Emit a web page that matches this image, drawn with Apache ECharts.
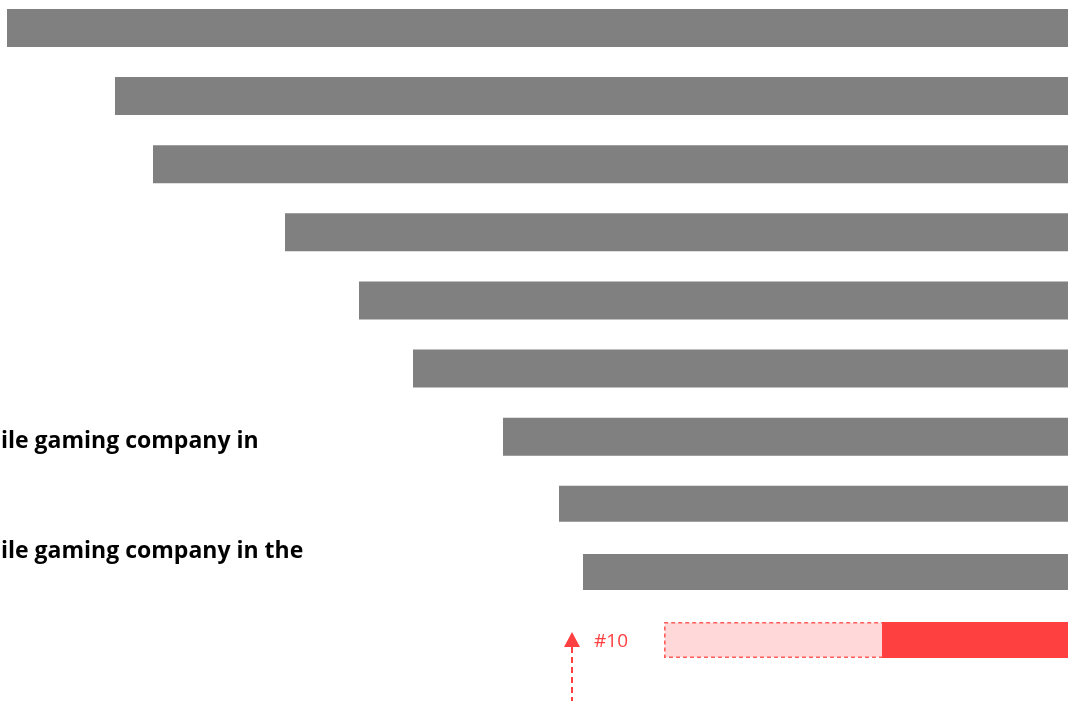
<!DOCTYPE html>
<html>
<head>
<meta charset="utf-8">
<script src="https://cdn.jsdelivr.net/npm/echarts@6/dist/echarts.min.js"></script>
<style>
html,body{margin:0;padding:0;background:#fff;}
#c{width:1068px;height:701px;}
</style>
</head>
<body>
<div id="c"></div>
<script>
const categories = ['r1','r2','r3','r4','r5','r6','r7','r8','r9','r10'];
const greyTop    = [1061, 953, 915, 783, 709, 655, 565, '-', '-', '-'];
const greyBottom = ['-', '-', '-', '-', '-', '-', '-', 509, 485, '-'];
const ghostValues = ['-', '-', '-', '-', '-', '-', '-', '-', '-', 404];
const redValues   = ['-', '-', '-', '-', '-', '-', '-', '-', '-', 186];
const rankLabel = '#10';
const noteLine1 = 'ile gaming company in';
const noteLine2 = 'ile gaming company in the';

const chart = echarts.init(document.getElementById('c'), null, {renderer:'canvas'});
const red = '#FF4040';
chart.setOption({
  animation:false,
  grid:{left:0,right:0,top:27,bottom:61,containLabel:false},
  xAxis:{type:'value',inverse:true,min:0,max:1068,show:false},
  yAxis:{type:'category',data:categories,inverse:true,show:false,boundaryGap:false},
  series:[
    {type:'bar',data:greyTop,barWidth:38,barGap:'-100%',itemStyle:{color:'#808080'}},
    {type:'bar',data:greyBottom,barWidth:36,barGap:'-100%',itemStyle:{color:'#808080'}},
    {type:'bar',data:ghostValues,barWidth:36,barGap:'-100%',
      itemStyle:{color:'#FFD9D9',borderColor:'#FF5C5C',borderType:[4,3],borderWidth:1.6}},
    {type:'bar',data:redValues,barWidth:36,barGap:'-100%',itemStyle:{color:red}}
  ],
  graphic:[
    {type:'text',x:1,y:441,style:{text:noteLine1,font:'bold 23px "Open Sans"',fill:'#000',verticalAlign:'middle'}},
    {type:'text',x:1,y:551,style:{text:noteLine2,font:'bold 23px "Open Sans"',fill:'#000',verticalAlign:'middle'}},
    {type:'text',x:594,y:642,style:{text:rankLabel,font:'19px "Open Sans"',fill:red,verticalAlign:'middle'}},
    {type:'polygon',shape:{points:[[572,632],[564,647],[580,647]]},style:{fill:red}},
    {type:'line',shape:{x1:572,y1:647,x2:572,y2:701},style:{stroke:red,lineWidth:2,lineDash:[6,4]}}
  ]
});
</script>
</body>
</html>
